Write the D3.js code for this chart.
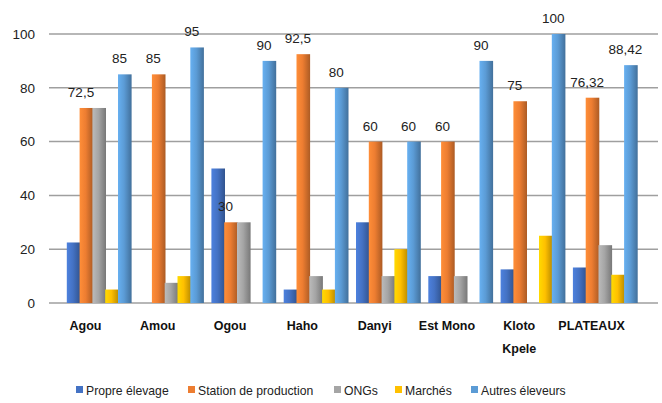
<!DOCTYPE html>
<html>
<head>
<meta charset="utf-8">
<script src="https://cdn.jsdelivr.net/npm/d3@7"></script>
<style>
  body { margin: 0; background: #fff; }
  svg { display: block; font-family: "Liberation Sans Narrow", "Liberation Sans", sans-serif; }
</style>
</head>
<body>
<div id="chart"></div>
<script>
// data
const categories = ["Agou", "Amou", "Ogou", "Haho", "Danyi", "Est Mono", "Kloto Kpele", "PLATEAUX"];
const seriesNames = ["Propre élevage", "Station de production", "ONGs", "Marchés", "Autres éleveurs"];
const propreElevage = [22.5, 0, 50, 5, 30, 10, 12.5, 13.2];
const stationProduction = [72.5, 85, 30, 92.5, 60, 60, 75, 76.32];
const ongs = [72.5, 7.5, 30, 10, 10, 10, 0, 21.5];
const marches = [5, 10, 0, 5, 20, 0, 25, 10.5];
const autresEleveurs = [85, 95, 90, 80, 60, 90, 100, 88.42];
const yTicks = [0, 20, 40, 60, 80, 100];
// which series carry data labels
const labelled = ["Station de production", "Autres éleveurs"];

const colors = ["#4472C4", "#ED7D31", "#A5A5A5", "#FFC000", "#5B9BD5"];
const allValues = [propreElevage, stationProduction, ongs, marches, autresEleveurs];

const svg_w = 662, svg_h = 403;
const svg = d3.select("#chart").append("svg")
    .attr("width", svg_w).attr("height", svg_h);

// gradients for the shaded bars
const defs = svg.append("defs");
colors.forEach((c, i) => {
    const g = defs.append("linearGradient").attr("id", "grad" + i)
        .attr("x1", "0%").attr("x2", "100%").attr("y1", "0%").attr("y2", "0%");
    g.append("stop").attr("offset", "0%").attr("stop-color", d3.color(c).brighter(0.35));
    g.append("stop").attr("offset", "45%").attr("stop-color", c);
    g.append("stop").attr("offset", "100%").attr("stop-color", d3.color(c).darker(0.9));
});

const plotLeft = 49, plotRight = 658;
const x0 = d3.scaleBand().domain(categories).range([49.3, 627.7]);
const x1 = d3.scaleBand().domain(seriesNames).range([0, 64]);
const depth = 17.5; // bars are pushed right of the category label
const y = d3.scaleLinear().domain([0, 100]).range([303, 34]);

// gridlines
svg.append("g").selectAll("line").data(yTicks).enter().append("line")
    .attr("x1", plotLeft).attr("x2", plotRight)
    .attr("y1", d => y(d)).attr("y2", d => y(d))
    .attr("stroke", "#9f9f9f").attr("stroke-width", 1.5);

// y axis labels
const yAxis = d3.axisLeft(y).tickValues(yTicks).tickSize(0).tickPadding(0);
const ya = svg.append("g").attr("transform", "translate(35,0)").call(yAxis);
ya.select(".domain").remove();
ya.selectAll("text").attr("font-size", 13.5).attr("fill", "#222")
    .attr("font-family", "Liberation Sans Narrow, Liberation Sans, sans-serif");

// bars
const rows = [];
categories.forEach((c, ci) => {
    seriesNames.forEach((s, si) => {
        rows.push({ cat: c, series: s, si: si, value: allValues[si][ci] });
    });
});

svg.append("g").selectAll("rect").data(rows.filter(d => d.value > 0)).enter().append("rect")
    .attr("x", d => x0(d.cat) + depth + x1(d.series))
    .attr("y", d => y(d.value))
    .attr("width", x1.bandwidth() + 0.8)
    .attr("height", d => y(0) - y(d.value))
    .attr("fill", d => "url(#grad" + d.si + ")");

// data labels
svg.append("g").selectAll("text")
    .data(rows.filter(d => labelled.includes(d.series))).enter().append("text")
    .attr("x", d => x0(d.cat) + depth + x1(d.series) + x1.bandwidth() / 2 - 5)
    .attr("y", d => y(d.value) - 11)
    .attr("text-anchor", "middle")
    .attr("font-size", 13.5).attr("fill", "#222")
    .text(d => String(d.value).replace(".", ","));

// category labels
const xAxis = d3.axisBottom(x0).tickSize(0).tickFormat("");
svg.append("g").attr("transform", "translate(0,303)").call(xAxis).select(".domain").remove();
const cl = svg.append("g").selectAll("text").data(categories).enter().append("text")
    .attr("x", d => x0(d) + x0.bandwidth() / 2)
    .attr("y", 330)
    .attr("text-anchor", "middle")
    .attr("font-size", 12.5).attr("font-weight", "bold").attr("fill", "#111");
cl.each(function (d) {
    const parts = d === "Kloto Kpele" ? ["Kloto", "Kpele"] : [d];
    parts.forEach((p, i) => {
        d3.select(this).append("tspan")
            .attr("x", x0(d) + x0.bandwidth() / 2)
            .attr("dy", i === 0 ? 0 : 23)
            .text(p);
    });
});

// legend
const legendX = [76, 188, 334, 395, 471];
const lg = svg.append("g").selectAll("g").data(seriesNames).enter().append("g")
    .attr("transform", (d, i) => "translate(" + legendX[i] + ",390)");
lg.append("rect").attr("x", 0).attr("y", -4).attr("width", 7).attr("height", 7)
    .attr("fill", (d, i) => colors[i]);
lg.append("text").attr("x", 10).attr("y", 4.5)
    .attr("font-size", 12.2).attr("fill", "#222")
    .text(d => d);
</script>
</body>
</html>
